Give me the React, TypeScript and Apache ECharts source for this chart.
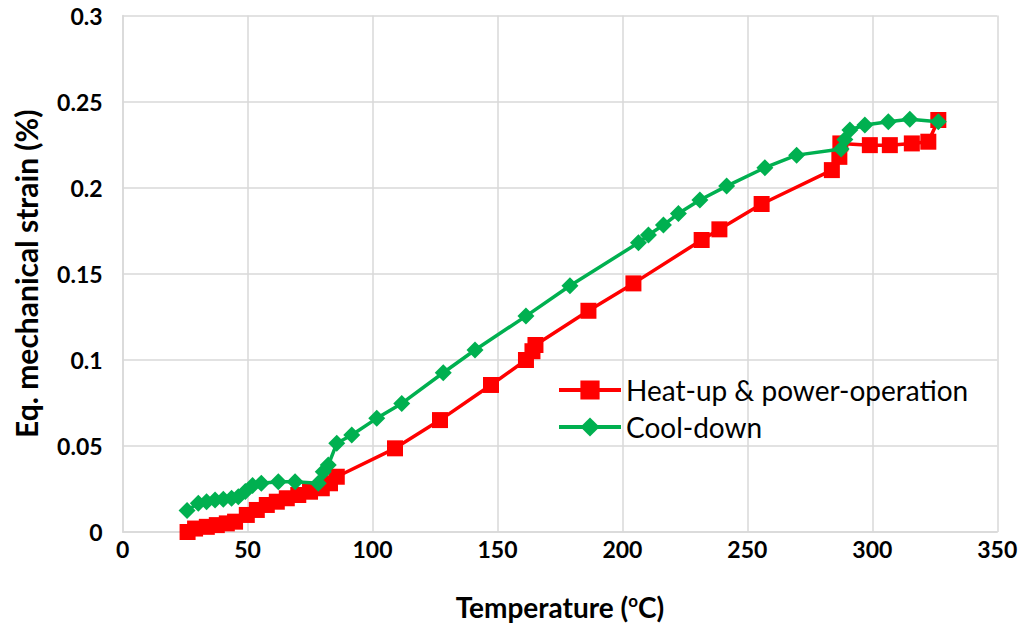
import React, { useEffect, useRef } from "react";
import * as echarts from "echarts";

const heatX = [26, 29, 33.7, 37.7, 41.7, 45, 49.7, 53.7, 57.7, 61.7, 65.7, 70.3, 75, 79.7, 83, 85.7, 109, 127, 147.4, 161.4, 164, 165.2, 186.4, 204.4, 231.7, 238.8, 255.7, 283.8, 286.8, 287.2, 299, 307, 315.8, 322.4, 326.4];
const heatY = [0, 0.002, 0.003, 0.004, 0.005, 0.006, 0.0099, 0.0128, 0.0157, 0.0176, 0.0196, 0.0215, 0.0234, 0.0254, 0.0283, 0.0321, 0.0486, 0.065, 0.0854, 0.0999, 0.105, 0.1086, 0.1285, 0.1444, 0.1696, 0.1758, 0.1905, 0.2102, 0.2179, 0.2257, 0.2247, 0.2247, 0.2257, 0.2267, 0.2393];

const coolX = [25.8, 30.3, 33.6, 37, 40.3, 43.6, 46.3, 49.1, 52, 55.5, 62.3, 69, 78.3, 80.3, 82.3, 85.7, 91.7, 101.7, 111.7, 128.3, 141, 161.4, 179, 206.4, 210.4, 216.4, 222.4, 231, 241.7, 257, 269.7, 287.5, 289, 291, 297, 306.4, 315, 326.4];
const coolY = [0.0125, 0.0167, 0.0176, 0.0186, 0.019, 0.0196, 0.0205, 0.0235, 0.027, 0.0283, 0.0292, 0.0292, 0.0283, 0.035, 0.0389, 0.0515, 0.0563, 0.066, 0.0747, 0.0925, 0.1057, 0.1254, 0.143, 0.168, 0.1725, 0.1783, 0.185, 0.1928, 0.2009, 0.2116, 0.2189, 0.2225, 0.228, 0.2335, 0.2364, 0.2383, 0.2397, 0.2383];

const xTicks = { min: 0, max: 350, interval: 50 };
const yTicks = { min: 0, max: 0.3, interval: 0.05 };

const FONT = "Lato, 'Open Sans', sans-serif";

export default function App() {
  const ref = useRef<HTMLDivElement>(null);
  useEffect(() => {
    if (!ref.current) return;
    const chart = echarts.init(ref.current, null, { renderer: "svg" });
    const heat = heatX.map((x, i) => [x, heatY[i]]);
    const cool = coolX.map((x, i) => [x, coolY[i]]);
    chart.setOption({
      animation: false,
      backgroundColor: "#ffffff",
      grid: { left: 122.6, top: 15.5, width: 874.7, height: 516.5, containLabel: false },
      legend: {
        orient: "vertical",
        left: 552,
        top: 371,
        itemWidth: 62,
        itemHeight: 24,
        itemGap: 9,
        lineStyle: { width: 4 },
        textStyle: { fontFamily: FONT, fontSize: 28, color: "#000" },
        data: ["Heat-up & power-operation", "Cool-down"],
      },
      xAxis: {
        type: "value",
        ...xTicks,
        name: "Temperature ({sup|o}C)",
        nameLocation: "middle",
        nameGap: 60,
        nameTextStyle: {
          fontFamily: FONT,
          fontSize: 28,
          fontWeight: "bold",
          color: "#000",
          rich: {
            sup: { fontFamily: FONT, fontSize: 17, fontWeight: "bold", color: "#000", verticalAlign: "top", padding: [0, 0, 12, 0] },
          },
        },
        axisLine: { show: true, lineStyle: { color: "#d9d9d9", width: 1.5 } },
        axisTick: { show: false },
        splitLine: { show: true, lineStyle: { color: "#d9d9d9", width: 1.5 } },
        axisLabel: { fontFamily: FONT, fontSize: 23, fontWeight: "bold", color: "#000", margin: 5 },
      },
      yAxis: {
        type: "value",
        ...yTicks,
        name: "Eq. mechanical strain (%)",
        nameLocation: "middle",
        nameGap: 82,
        nameTextStyle: { fontFamily: FONT, fontSize: 30, fontWeight: "bold", color: "#000" },
        axisLine: { show: true, lineStyle: { color: "#d9d9d9", width: 1.5 } },
        axisTick: { show: false },
        splitLine: { show: true, lineStyle: { color: "#d9d9d9", width: 1.5 } },
        axisLabel: {
          fontFamily: FONT,
          fontSize: 23,
          fontWeight: "bold",
          color: "#000",
          margin: 20,
          formatter: (v: number) => String(Math.round(v * 100) / 100),
        },
      },
      series: [
        {
          name: "Heat-up & power-operation",
          type: "line",
          data: heat,
          symbol: "rect",
          symbolSize: 16,
          itemStyle: { color: "#ff0000" },
          lineStyle: { color: "#ff0000", width: 3.5 },
          z: 2,
        },
        {
          name: "Cool-down",
          type: "line",
          data: cool,
          symbol: "diamond",
          symbolSize: 17,
          itemStyle: { color: "#00b050" },
          lineStyle: { color: "#00b050", width: 3.5 },
          z: 3,
        },
      ],
    });
    return () => chart.dispose();
  }, []);
  return <div ref={ref} style={{ width: 1025, height: 627, position: "absolute", left: 0, top: 0 }} />;
}
